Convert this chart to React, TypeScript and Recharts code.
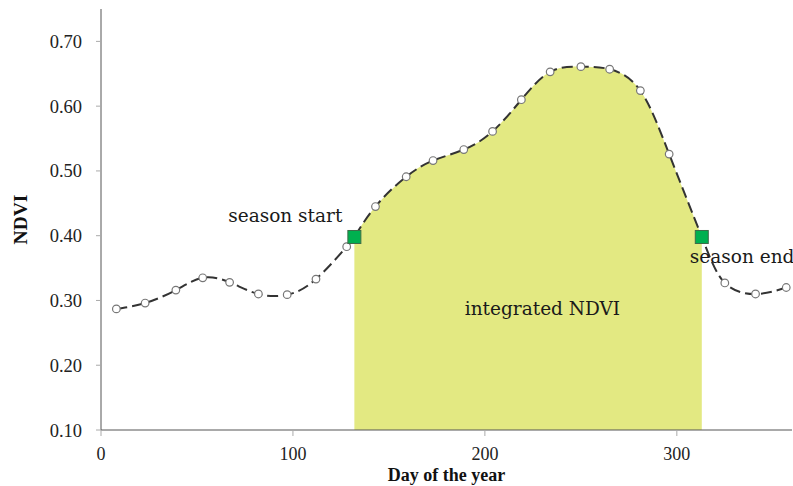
import React from "react";
import {
  ComposedChart,
  Area,
  Line,
  Scatter,
  XAxis,
  YAxis,
  ReferenceDot,
} from "recharts";

// 16-day composite observations
const obsDays = [8, 23, 39, 53, 67, 82, 97, 112, 128, 143, 159, 173, 189, 204, 219, 234, 250, 265, 281, 296, 325, 341, 357];
const obsNdvi = [
  0.287, 0.296, 0.316, 0.335, 0.328, 0.31, 0.309, 0.333, 0.383, 0.445, 0.491, 0.516,
  0.533, 0.561, 0.61, 0.653, 0.661, 0.657, 0.624, 0.526, 0.327, 0.31, 0.32,
];

// season start / end markers
const seasonDays = [132, 313];
const seasonNdvi = [0.398, 0.398];

const xTicks = [0, 100, 200, 300];
const yTicks = [0.1, 0.2, 0.3, 0.4, 0.5, 0.6, 0.7];

const observations = obsDays.map((d, i) => ({ day: d, ndvi: obsNdvi[i] }));
const markers = seasonDays.map((d, i) => ({ day: d, ndvi: seasonNdvi[i] }));
const curve = [...observations, ...markers].sort((a, b) => a.day - b.day);
const season = curve.filter((p) => p.day >= seasonDays[0] && p.day <= seasonDays[1]);

const serif = "'Liberation Serif', 'Times New Roman', serif";
const annoFont = "'DejaVu Serif', serif";

const OpenDot = (props: any) => (
  <circle cx={props.cx} cy={props.cy} r={3.8} fill="#fff" stroke="#777" strokeWidth={1.2} />
);

const SquareDot = (props: any) => (
  <rect x={props.cx - 6.5} y={props.cy - 6.5} width={13} height={13} fill="#00b04f" stroke="#3d6b48" strokeWidth={1} />
);

const annotation = (text: string, dx: number, dy: number, anchor: "start" | "middle" | "end") =>
  (p: any) => (
    <text x={p.cx + dx} y={p.cy + dy} textAnchor={anchor} fontFamily={annoFont} fontSize={18.5} fill="#1a1a1a">
      {text}
    </text>
  );

export default function App() {
  return (
    <div style={{ position: "absolute", left: 0, top: 0, background: "#fff" }}>
      <ComposedChart width={793} height={486} margin={{ top: 9, right: 1, left: 0, bottom: 0 }}>
        <XAxis
          type="number"
          dataKey="day"
          domain={[0, 360]}
          ticks={xTicks}
          height={56}
          tickSize={6}
          tickMargin={11}
          stroke="#555"
          tickLine={{ stroke: "#aaa" }}
          tick={{ fontFamily: serif, fontSize: 18, fill: "#222" }}
          label={{
            content: (p: any) => (
              <text
                x={p.viewBox.x + p.viewBox.width / 2}
                y={p.viewBox.y + 51}
                textAnchor="middle"
                fontFamily={serif}
                fontWeight="bold"
                fontSize={18}
                fill="#111"
              >
                Day of the year
              </text>
            ),
          }}
        />
        <YAxis
          type="number"
          domain={[0.1, 0.75]}
          ticks={yTicks}
          width={101}
          tickSize={5}
          tickMargin={14}
          stroke="#555"
          tickLine={{ stroke: "#aaa" }}
          tick={{ fontFamily: serif, fontSize: 18.5, fill: "#222" }}
          tickFormatter={(v: number) => v.toFixed(2)}
          label={{
            content: (p: any) => {
              const cx = p.viewBox.x + 20;
              const cy = p.viewBox.y + p.viewBox.height / 2;
              return (
                <text
                  x={cx}
                  y={cy}
                  transform={`rotate(-90, ${cx}, ${cy})`}
                  textAnchor="middle"
                  dominantBaseline="central"
                  fontFamily={serif}
                  fontWeight="bold"
                  fontSize={19.5}
                  fill="#111"
                >
                  NDVI
                </text>
              );
            },
          }}
        />
        <Area
          data={season}
          dataKey="ndvi"
          type="natural"
          fill="#e3e982"
          fillOpacity={1}
          stroke="none"
          isAnimationActive={false}
        />
        <Line
          data={curve}
          dataKey="ndvi"
          type="natural"
          stroke="#333"
          strokeWidth={2}
          strokeDasharray="11 5"
          dot={false}
          isAnimationActive={false}
        />
        <Scatter data={observations} dataKey="ndvi" shape={OpenDot} isAnimationActive={false} />
        <Scatter data={markers} dataKey="ndvi" shape={SquareDot} isAnimationActive={false} />
        <ReferenceDot x={seasonDays[0]} y={seasonNdvi[0]} r={0} shape={annotation("season start", -12, -15, "end")} />
        <ReferenceDot x={seasonDays[1]} y={seasonNdvi[1]} r={0} shape={annotation("season end", -12, 26, "start")} />
        <ReferenceDot x={230} y={0.277} r={0} shape={annotation("integrated NDVI", 0, 0, "middle")} />
      </ComposedChart>
    </div>
  );
}
